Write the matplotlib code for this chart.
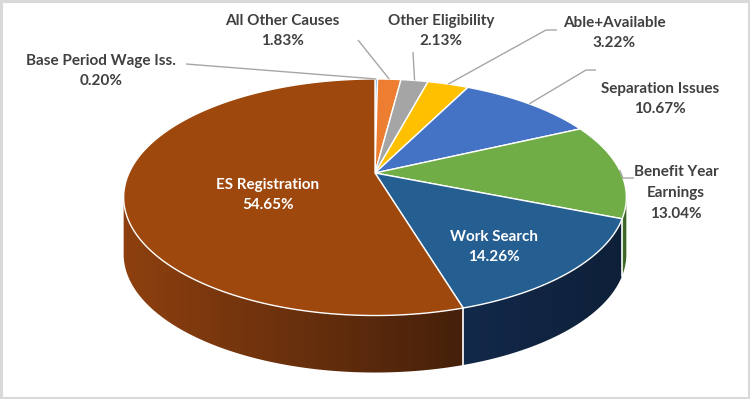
import numpy as np
import matplotlib
matplotlib.use("Agg")
import matplotlib.pyplot as plt
from matplotlib.patches import Polygon, Rectangle
from matplotlib import colors as mcolors
from matplotlib import font_manager as fm

# ---------------- data ----------------
categories = ["Base Period Wage Iss.", "All Other Causes", "Other Eligibility",
              "Able+Available", "Separation Issues", "Benefit Year\nEarnings",
              "Work Search", "ES Registration"]
values = [0.20, 1.83, 2.13, 3.22, 10.67, 13.04, 14.26, 54.65]
pct_labels = ["0.20%", "1.83%", "2.13%", "3.22%", "10.67%", "13.04%", "14.26%", "54.65%"]

# ---------------- style ----------------
top_colors = ["#5B9BD5", "#ED7D31", "#A5A5A5", "#FFC000", "#4472C4",
              "#70AD47", "#255E91", "#9E480E"]
side_left = ["#3A6A96", "#A8551F", "#747474", "#B38600", "#2E4F8A",
             "#4A7A2E", "#13294A", "#8E400F"]
side_right = ["#2C5278", "#7A3E16", "#555555", "#806000", "#223B68",
              "#33561F", "#0E2039", "#45200A"]

avail = {f.name for f in fm.fontManager.ttflist}
FONT = "Liberation Sans Narrow" if "Liberation Sans Narrow" in avail else "Lato"
FS = 11

W, H = 750, 399
fig = plt.figure(figsize=(W / 100, H / 100), dpi=100)
ax = fig.add_axes([0, 0, 1, 1])

# perspective disk geometry
CX, CY, A, B, K, DEPTH = 375.0, 173.0, 246.0, 113.3, 0.205, 57.0
SIL = np.degrees(np.arcsin(K))  # silhouette angle offset


def proj(theta, drop=0.0):
    t = np.radians(theta)
    u, v = np.cos(t), np.sin(t)
    s = 1 + K * v
    return CX + A * u / s, CY - B * v / s + drop


vals = np.array(values)
cum = np.concatenate([[0], np.cumsum(vals) / vals.sum()])
starts = 90 - 360 * cum[:-1]
ends = 90 - 360 * cum[1:]

# ---- side walls (visible front part) ----
for i in range(len(vals)):
    a0, a1 = ends[i], starts[i]
    lo, hi = max(a0, -180.0 + SIL), min(a1, -SIL)
    if hi <= lo:
        continue
    grid = np.linspace(lo, hi, max(3, int((hi - lo) * 3) + 1))
    top = [proj(g) for g in grid]
    bot = [proj(g, DEPTH) for g in grid[::-1]]
    poly = Polygon(top + bot, closed=True, facecolor="none", edgecolor="none")
    ax.add_patch(poly)
    xs = [p[0] for p in top]
    ys = [p[1] for p in top] + [p[1] for p in bot]
    xmin, xmax = min(xs) - 2, max(xs) + 2
    ymin, ymax = min(ys) - 2, max(ys) + 2
    c0 = np.array(mcolors.to_rgb(side_left[i]))
    c1 = np.array(mcolors.to_rgb(side_right[i]))
    tt = np.linspace(0, 1, 256)[None, :, None]
    grad = c0[None, None, :] * (1 - tt) + c1[None, None, :] * tt
    im = ax.imshow(grad, extent=(xmin, xmax, ymax, ymin), origin="upper",
                   aspect="auto", interpolation="bilinear", zorder=1)
    im.set_clip_path(poly)

# white separators on the side
for ang in list(starts):
    a = ((ang + 180) % 360) - 180
    if -180 + SIL < a < -SIL:
        x, y = proj(a)
        ax.plot([x, x], [y, y + DEPTH], color="white", lw=1.2, zorder=2)

# ---- top surface ----
for i in range(len(vals)):
    n = max(3, int(abs(starts[i] - ends[i]) * 2))
    th = np.linspace(starts[i], ends[i], n)
    pts = [(CX, CY)] + [proj(t) for t in th]
    ax.add_patch(Polygon(pts, closed=True, facecolor=top_colors[i],
                         edgecolor="white", lw=1.0, joinstyle="round", zorder=3))

# ---- labels ----
mids = (starts + ends) / 2
TXT = "#404040"
LINE = "#A6A6A6"
LS = 1.62

outside = {
    0: ((101, 71), [(186, 64)]),
    1: ((282, 31), [(358, 40)]),
    2: ((441, 31), [(413, 52)]),
    3: ((614, 33), [(557, 30), (546, 30)]),
    4: ((660, 99), [(596, 70), (586, 70)]),
    5: ((676, 193), [(634, 178), (623, 178)]),
}
for i, ((tx, ty), pts) in outside.items():
    ax.text(tx, ty, categories[i] + "\n" + pct_labels[i], ha="center", va="center",
            fontsize=FS, fontweight="bold", family=[FONT, "DejaVu Sans"], color=TXT,
            linespacing=LS, zorder=6)
    rx, ry = proj(mids[i])
    xs = [p[0] for p in pts] + [rx]
    ys = [p[1] for p in pts] + [ry]
    ax.plot(xs, ys, color=LINE, lw=1.0, zorder=5, solid_capstyle="butt")

inside = {7: (268, 195), 6: (494, 247)}
for i, (tx, ty) in inside.items():
    ax.text(tx, ty, categories[i] + "\n" + pct_labels[i], ha="center", va="center",
            fontsize=FS, fontweight="bold", family=[FONT, "DejaVu Sans"], color="white",
            linespacing=LS, zorder=6)

# frame
ax.add_patch(Rectangle((1, 1), W - 2.5, H - 2.5, fill=False, edgecolor="#D9D9D9",
                       lw=2.2, zorder=10))

ax.set_xlim(0, W)
ax.set_ylim(H, 0)
ax.axis("off")
fig.savefig("out.png", dpi=100)
